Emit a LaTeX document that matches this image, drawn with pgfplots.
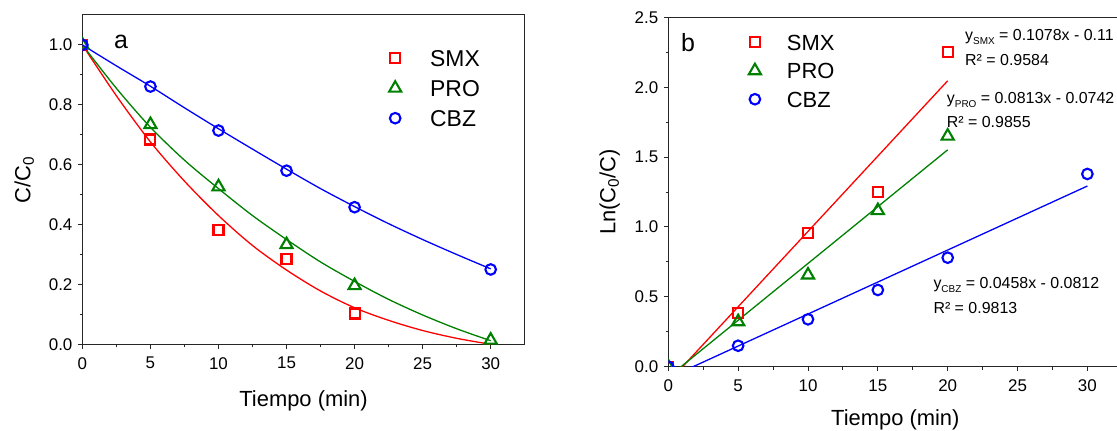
\documentclass[border=0pt]{standalone}
\usepackage{pgfplots}
\pgfplotsset{compat=1.18}
\usepackage{fontspec}
\setmainfont{Liberation Sans}
\definecolor{cred}{RGB}{255,0,0}
\definecolor{cgreen}{RGB}{0,128,0}
\definecolor{cblue}{RGB}{0,0,255}
\pgfplotsset{
  myaxis/.style={
    scale only axis,
    axis line style={line width=1bp, black!85},
    tick align=outside, tick pos=left,
    major tick length=4.5bp, minor tick length=2.8bp,
    every tick/.style={line width=1bp, black!85},
    tick label style={font=\fontsize{17}{20}\selectfont},
    xticklabel style={yshift=-5bp},
    yticklabel style={xshift=-2bp},
    /pgf/number format/assume math mode=true,
    label style={font=\fontsize{22}{26}\selectfont},
    xlabel style={yshift=-14bp},
    ylabel style={yshift=8bp},
    clip marker paths=true,
    xmin=0, xmax=32.5, xtick={0,5,10,15,20,25,30}, minor x tick num=1,
    yticklabel style={/pgf/number format/.cd, fixed, fixed zerofill, precision=1},
  },
  lmk/.style={legend image code/.code={\path[draw=none,fill=none] (-9bp,-8bp) rectangle (#1,8bp); \draw[##1] plot coordinates {(0bp,0bp)};}},
  msq/.style={only marks, mark=square, mark size=5bp, mark options={line width=2.1bp}, cred, lmk=#1},
  mtr/.style={only marks, mark=triangle, mark size=7bp, mark options={line width=2.1bp}, cgreen, lmk=#1},
  mci/.style={only marks, mark=o, mark size=5.3bp, mark options={line width=2.1bp}, cblue, lmk=#1},
}
\begin{document}
\begin{tikzpicture}[x=1bp,y=1bp]
% ---------- panel a ----------
\begin{axis}[myaxis, at={(82.4bp,85.7bp)}, anchor=south west,
  width=442.3bp, height=329.3bp,
  ymin=0, ymax=1.1, ytick={0,0.2,0.4,0.6,0.8,1.0}, minor y tick num=1,
  xlabel={Tiempo (min)}, ylabel={C/C\textsubscript{0}},
  legend style={at={(0.6864,0.915)}, anchor=north west, draw=none, fill=none, inner sep=0bp,
    column sep=0bp, row sep=0bp, font=\fontsize{23}{27}\selectfont,
    nodes={inner xsep=0bp, inner ysep=0bp, text height=23.2bp, text depth=6.8bp}},
  legend cell align=left]
\addplot[cred, line width=1.3bp, smooth, no marks, forget plot] coordinates {
(0,1.0) (2.5,0.83) (5,0.676) (7.5,0.545) (10,0.43) (12.5,0.33) (15,0.248) (17.5,0.178) (20,0.122) (22.5,0.08) (25,0.046) (27.5,0.02) (30,0.0)};
\addplot[cgreen, line width=1.3bp, smooth, no marks, forget plot] coordinates {
(0,1.0) (2.5,0.855) (5,0.725) (7.5,0.615) (10,0.52) (12.5,0.43) (15,0.35) (17.5,0.275) (20,0.21) (22.5,0.15) (25,0.098) (27.5,0.052) (30,0.012)};
\addplot[cblue, line width=1.3bp, smooth, no marks, forget plot] coordinates {
(0,1.0) (2.5,0.93) (5,0.862) (7.5,0.79) (10,0.72) (12.5,0.652) (15,0.585) (17.5,0.52) (20,0.46) (22.5,0.403) (25,0.35) (27.5,0.30) (30,0.252)};
\addplot[msq=35bp] coordinates {(0,1.0) (5,0.684) (10,0.381) (15,0.284) (20,0.103)};
\addlegendentry{SMX}
\addplot[mtr=35bp] coordinates {(0,1.0) (5,0.734) (10,0.526) (15,0.333) (20,0.196) (30,0.014)};
\addlegendentry{PRO}
\addplot[mci=35bp] coordinates {(0,1.0) (5,0.861) (10,0.714) (15,0.580) (20,0.458) (30,0.250)};
\addlegendentry{CBZ}
\end{axis}
% ---------- panel b ----------
\begin{axis}[myaxis, at={(668.3bp,63.3bp)}, anchor=south west,
  width=454bp, height=349.4bp,
  ymin=0, ymax=2.5, ytick={0,0.5,1.0,1.5,2.0,2.5}, minor y tick num=1,
  xlabel={Tiempo (min)}, ylabel={Ln(C\textsubscript{0}/C)},
  xlabel style={yshift=3bp},
  legend style={at={(0.1705,0.970)}, anchor=north west, draw=none, fill=none, inner sep=0bp,
    column sep=0bp, row sep=0bp, font=\fontsize{22}{26}\selectfont,
    nodes={inner xsep=0bp, inner ysep=0bp, text height=22.15bp, text depth=6.35bp}},
  legend cell align=left]
\addplot[cred, line width=1.3bp, no marks, forget plot] coordinates {(0,-0.11) (20,2.046)};
\addplot[cgreen, line width=1.3bp, no marks, forget plot] coordinates {(0,-0.0742) (20,1.5518)};
\addplot[cblue, line width=1.3bp, no marks, forget plot] coordinates {(0,-0.0812) (30,1.2928)};
\addplot[msq=32bp] coordinates {(0,0) (5,0.382) (10,0.959) (15,1.248) (20,2.254)};
\addlegendentry{SMX}
\addplot[mtr=32bp] coordinates {(0,0) (5,0.322) (10,0.656) (15,1.117) (20,1.650)};
\addlegendentry{PRO}
\addplot[mci=32bp] coordinates {(0,0) (5,0.150) (10,0.339) (15,0.549) (20,0.780) (30,1.379)};
\addlegendentry{CBZ}
\end{axis}
% ---------- text ----------
\node[anchor=base, inner sep=0bp, font=\fontsize{25}{30}\selectfont] at (121,382) {a};
\node[anchor=base west, inner sep=0bp, font=\fontsize{25}{30}\selectfont] at (681,378.3) {b};
\begin{scope}[every node/.style={anchor=base west, inner sep=0bp, font=\fontsize{16}{19}\selectfont}]
\node at (965,389.3) {y\raisebox{-4bp}{\fontsize{10}{12}\selectfont SMX} = 0.1078x - 0.11};
\node at (965,365) {R² = 0.9584};
\node at (946.7,326.7) {y\raisebox{-4bp}{\fontsize{10}{12}\selectfont PRO} = 0.0813x - 0.0742};
\node at (946.7,302.3) {R² = 0.9855};
\node at (933.3,141.7) {y\raisebox{-4bp}{\fontsize{10}{12}\selectfont CBZ} = 0.0458x - 0.0812};
\node at (933.3,117) {R² = 0.9813};
\end{scope}
\pgfresetboundingbox
\useasboundingbox (0,0) rectangle (1117,430);
\end{tikzpicture}
\end{document}
